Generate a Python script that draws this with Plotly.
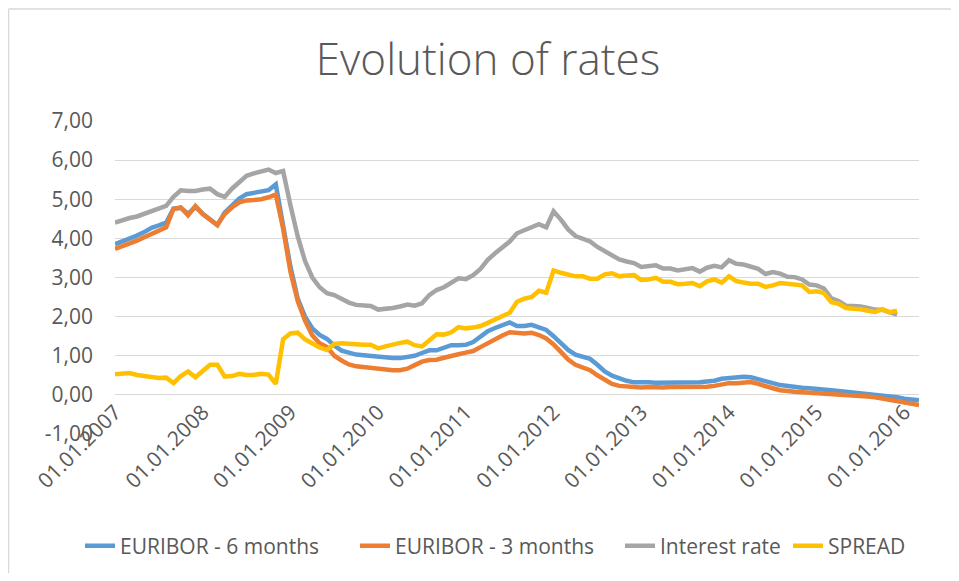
import plotly.graph_objects as go

# ---- categories (monthly, 01.01.2007 .. 01.03.2016) ----
months = [f"01.{m:02d}.{y}" for y in range(2007, 2017) for m in range(1, 13)][:111]
year_ticks = [f"01.01.{y}" for y in range(2007, 2017)]
y_tick_vals = [-1, 0, 1, 2, 3, 4, 5, 6, 7]
y_tick_text = ["-1,00", "0,00", "1,00", "2,00", "3,00", "4,00", "5,00", "6,00", "7,00"]

# ---- series values ----
euribor_6m = [
    3.85, 3.92, 3.98, 4.07, 4.16, 4.27, 4.33, 4.40, 4.76, 4.78, 4.63, 4.80,
    4.63, 4.48, 4.34, 4.66, 4.84, 5.02, 5.13, 5.17, 5.20, 5.23, 5.38, 4.35,
    3.28, 2.46, 2.00, 1.70, 1.53, 1.43, 1.26, 1.13, 1.07, 1.03, 1.01, 0.99,
    0.97, 0.95, 0.94, 0.94, 0.96, 1.00, 1.07, 1.14, 1.14, 1.21, 1.27, 1.27,
    1.28, 1.35, 1.49, 1.63, 1.71, 1.77, 1.85, 1.76, 1.76, 1.79, 1.73, 1.66,
    1.50, 1.32, 1.15, 1.03, 0.97, 0.92, 0.77, 0.60, 0.49, 0.42, 0.36, 0.32,
    0.33, 0.32, 0.31, 0.31, 0.32, 0.33, 0.33, 0.33, 0.32, 0.34, 0.36, 0.41,
    0.43, 0.44, 0.46, 0.45, 0.39, 0.33, 0.30, 0.25, 0.22, 0.20, 0.18, 0.17,
    0.16, 0.14, 0.12, 0.10, 0.08, 0.07, 0.06, 0.04, 0.02, 0.00, -0.03, -0.06,
    -0.10, -0.12, -0.14,
]
euribor_3m = [
    3.73, 3.79, 3.86, 3.94, 4.03, 4.12, 4.20, 4.28, 4.75, 4.79, 4.59, 4.83,
    4.62, 4.47, 4.34, 4.62, 4.79, 4.92, 4.97, 4.98, 5.00, 5.05, 5.12, 4.25,
    3.15, 2.40, 1.90, 1.52, 1.32, 1.22, 1.00, 0.88, 0.78, 0.73, 0.71, 0.69,
    0.66, 0.64, 0.63, 0.63, 0.67, 0.76, 0.85, 0.89, 0.90, 0.95, 1.01, 1.04,
    1.08, 1.12, 1.22, 1.33, 1.43, 1.52, 1.60, 1.58, 1.57, 1.59, 1.53, 1.44,
    1.29, 1.10, 0.90, 0.77, 0.70, 0.63, 0.50, 0.38, 0.28, 0.23, 0.21, 0.19,
    0.19, 0.20, 0.19, 0.19, 0.20, 0.20, 0.20, 0.20, 0.20, 0.21, 0.23, 0.27,
    0.30, 0.30, 0.32, 0.33, 0.28, 0.21, 0.17, 0.12, 0.09, 0.08, 0.07, 0.06,
    0.05, 0.03, 0.02, 0.01, 0.00, -0.01, -0.02, -0.04, -0.06, -0.09, -0.12, -0.15,
    -0.19, -0.23, -0.26,
]
interest_rate = [
    4.40, 4.47, 4.52, 4.56, 4.63, 4.70, 4.74, 4.83, 5.06, 5.23, 5.21, 5.21,
    5.25, 5.27, 5.13, 5.06, 5.27, 5.44, 5.60, 5.66, 5.71, 5.76, 5.67, 5.72,
    4.85, 4.05, 3.42, 3.00, 2.75, 2.60, 2.55, 2.44, 2.36, 2.30, 2.28, 2.27,
    2.18, 2.19, 2.22, 2.26, 2.31, 2.28, 2.34, 2.55, 2.68, 2.75, 2.86, 2.98,
    2.96, 3.06, 3.22, 3.45, 3.62, 3.76, 3.92, 4.13, 4.21, 4.27, 4.36, 4.28,
    4.69, 4.48, 4.23, 4.06, 4.00, 3.92, 3.78, 3.68, 3.59, 3.46, 3.41, 3.37,
    3.27, 3.29, 3.31, 3.23, 3.23, 3.18, 3.21, 3.24, 3.15, 3.25, 3.30, 3.26,
    3.44, 3.35, 3.33, 3.28, 3.22, 3.09, 3.14, 3.10, 3.02, 3.01, 2.95, 2.82,
    2.80, 2.72, 2.47, 2.40, 2.28, 2.27, 2.26, 2.22, 2.18, 2.17, 2.11, 2.05,
]
spread = [
    0.53, 0.55, 0.56, 0.51, 0.49, 0.45, 0.43, 0.44, 0.30, 0.48, 0.60, 0.45,
    0.62, 0.77, 0.77, 0.47, 0.48, 0.54, 0.51, 0.51, 0.54, 0.52, 0.28, 1.42,
    1.57, 1.59, 1.42, 1.30, 1.21, 1.15, 1.30, 1.32, 1.30, 1.28, 1.28, 1.28,
    1.19, 1.24, 1.30, 1.33, 1.36, 1.27, 1.24, 1.39, 1.55, 1.54, 1.60, 1.73,
    1.70, 1.72, 1.76, 1.84, 1.93, 2.02, 2.10, 2.38, 2.46, 2.50, 2.66, 2.61,
    3.18, 3.12, 3.06, 3.03, 3.03, 2.97, 2.97, 3.08, 3.11, 3.03, 3.05, 3.06,
    2.94, 2.95, 2.99, 2.89, 2.89, 2.83, 2.84, 2.86, 2.78, 2.90, 2.95, 2.87,
    3.03, 2.91, 2.87, 2.84, 2.84, 2.76, 2.80, 2.86, 2.84, 2.83, 2.80, 2.63,
    2.65, 2.60, 2.37, 2.33, 2.22, 2.20, 2.19, 2.15, 2.12, 2.19, 2.11, 2.15,
]

series = [
    ("EURIBOR - 6 months", euribor_6m, "#5B9BD5"),
    ("EURIBOR - 3 months", euribor_3m, "#ED7D31"),
    ("Interest rate", interest_rate, "#A5A5A5"),
    ("SPREAD", spread, "#FFC000"),
]

FONT = "Open Sans"
TXT = "#595959"

# page has an 8px body margin: figure coordinates = page coordinates - 8
OFF = 8
W, H = 943, 565
L, R, T, B = 115 - OFF, W - (919 - OFF), 120.7 - OFF, H - (434.2 - OFF)
pw, ph = W - L - R, H - T - B


def px(xp):
    return (xp - OFF - L) / pw


def py(yp):
    return (H - B - (yp - OFF)) / ph


legend_ids = ["legend", "legend2", "legend3", "legend4"]
legend_text_x = [122, 397, 662, 830]  # page x where each legend text starts

fig = go.Figure()
for (name, vals, col), lid in zip(series, legend_ids):
    fig.add_trace(go.Scatter(
        x=months[:len(vals)], y=vals, name=name, mode="lines",
        line=dict(color=col, width=4.5), legend=lid,
    ))

legend_layout = {}
for lid, tx in zip(legend_ids, legend_text_x):
    legend_layout[lid] = dict(
        orientation="h", xref="container", yref="container",
        x=(tx - 42 - OFF) / W, xanchor="left", y=1 - (546 - OFF) / H, yanchor="middle",
        font=dict(family=FONT, size=21, color=TXT), bgcolor="rgba(0,0,0,0)",
    )

fig.update_layout(
    width=W, height=H,
    margin=dict(l=L, r=R, t=T, b=B, autoexpand=False),
    paper_bgcolor="white", plot_bgcolor="white",
    font=dict(family=FONT, color=TXT, size=21),
    title=dict(
        text="Evolution of rates", x=(488 - OFF) / W, xref="container", xanchor="center",
        y=1 - (60 - OFF) / H, yref="container", yanchor="middle",
        font=dict(family=FONT, size=44, color=TXT, weight=300),
    ),
    xaxis=dict(
        type="category", range=[0, len(months) - 1],
        tickmode="array", tickvals=year_ticks, ticktext=year_ticks,
        tickangle=-45, tickfont=dict(family=FONT, size=21, color=TXT),
        showgrid=False, zeroline=False, showline=False, ticks="",
        anchor="free", position=py(395), automargin=False,
    ),
    yaxis=dict(
        range=[-1, 7], tickmode="array", tickvals=y_tick_vals, ticktext=y_tick_text,
        tickfont=dict(family=FONT, size=21, color=TXT),
        showgrid=True, gridcolor="#D9D9D9", gridwidth=1.3,
        zeroline=False, showline=False, ticks="", ticklabelstandoff=21,
        automargin=False,
    ),
    showlegend=True,
    shapes=[
        dict(type="line", xref="paper", yref="paper", x0=px(8.5), x1=px(W + OFF + 5),
             y0=py(8.5), y1=py(8.5), line=dict(color="#D9D9D9", width=1.5)),
        dict(type="line", xref="paper", yref="paper", x0=px(8.5), x1=px(8.5),
             y0=py(8.5), y1=py(H + OFF + 5), line=dict(color="#D9D9D9", width=1.5)),
    ],
    **legend_layout,
)

fig.write_html("out.html")
